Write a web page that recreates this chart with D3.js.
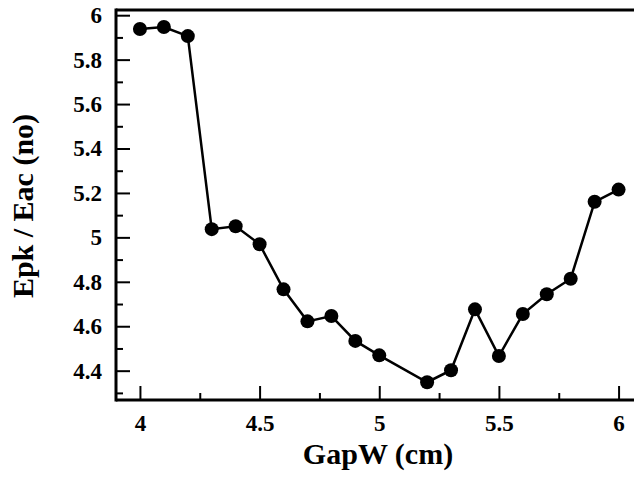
<!DOCTYPE html>
<html>
<head>
<meta charset="utf-8">
<script src="https://cdn.jsdelivr.net/npm/d3@7"></script>
<style>
  html, body { margin: 0; padding: 0; background: #fff; }
  svg { display: block; }
  svg text { font-family: "Liberation Serif", "Times New Roman", serif !important; font-weight: bold !important; }
</style>
</head>
<body style="margin:0">
<svg id="chart" width="634" height="477" font-family="Liberation Serif, Times New Roman, serif"></svg>
<script>
const gapW = [4.0, 4.1, 4.2, 4.3, 4.4, 4.5, 4.6, 4.7, 4.8, 4.9, 5.0, 5.2, 5.3, 5.4, 5.5, 5.6, 5.7, 5.8, 5.9, 6.0];
const epkEac = [5.938, 5.947, 5.906, 5.037, 5.050, 4.969, 4.766, 4.622, 4.646, 4.534, 4.469, 4.348, 4.402, 4.676, 4.466, 4.655, 4.744, 4.814, 5.160, 5.215];
const xTicks = [4, 4.5, 5, 5.5, 6];
const xMinorTicks = [4.25, 4.75, 5.25, 5.75];
const yTicks = [4.4, 4.6, 4.8, 5.0, 5.2, 5.4, 5.6, 5.8, 6.0];
const yMinorTicks = [4.3, 4.5, 4.7, 4.9, 5.1, 5.3, 5.5, 5.7, 5.9];
const xLabel = "GapW (cm)";
const yLabel = "Epk / Eac (no)";

(function () {
const FONT = "Liberation Serif, Times New Roman, serif";
const svg = d3.select("#chart");
const mLeft = 116, mTop = 10, mBottom = 400, mRight = 642.5;

const x = d3.scaleLinear().domain([3.9, 6.1]).range([mLeft, mRight]);
const y = d3.scaleLinear().domain([4.268, 6.0234]).range([mBottom, mTop]);
const fmt = d => String(d);

function styleAxis(g) {
  g.attr("font-family", FONT).attr("font-size", 23).attr("font-weight", "bold");
  g.select(".domain").remove();
  g.selectAll("line").attr("stroke", "#000").attr("stroke-width", 2);
  g.selectAll("text").attr("fill", "#000").attr("font-family", FONT)
    .attr("font-size", 23).attr("font-weight", "bold");
}

// minor ticks
svg.append("g").attr("transform", `translate(0,${mBottom})`)
  .call(d3.axisBottom(x).tickValues(xMinorTicks).tickSize(-7).tickFormat(""))
  .call(styleAxis);
svg.append("g").attr("transform", `translate(${mLeft},0)`)
  .call(d3.axisLeft(y).tickValues(yMinorTicks).tickSize(-7).tickFormat(""))
  .call(styleAxis);

// major ticks
svg.append("g").attr("transform", `translate(0,${mBottom})`)
  .call(d3.axisBottom(x).tickValues(xTicks).tickSize(-14).tickPadding(15).tickFormat(fmt))
  .call(styleAxis);
svg.append("g").attr("transform", `translate(${mLeft},0)`)
  .call(d3.axisLeft(y).tickValues(yTicks).tickSize(-14).tickPadding(14).tickFormat(fmt))
  .call(styleAxis);

// frame lines
svg.append("line").attr("x1", mLeft).attr("x2", 634).attr("y1", mTop).attr("y2", mTop)
  .attr("stroke", "#000").attr("stroke-width", 3);
svg.append("line").attr("x1", mLeft).attr("x2", 634).attr("y1", mBottom).attr("y2", mBottom)
  .attr("stroke", "#000").attr("stroke-width", 3);
svg.append("line").attr("x1", mLeft).attr("x2", mLeft).attr("y1", mTop - 1.5).attr("y2", mBottom + 1.5)
  .attr("stroke", "#000").attr("stroke-width", 3);

const data = gapW.map((g, i) => ({ x: g, y: epkEac[i] }));

svg.append("path").datum(data)
  .attr("fill", "none").attr("stroke", "#000").attr("stroke-width", 2.5)
  .attr("d", d3.line().x(d => x(d.x)).y(d => y(d.y)));

svg.append("g").selectAll("circle").data(data).join("circle")
  .attr("cx", d => x(d.x)).attr("cy", d => y(d.y)).attr("r", 7).attr("fill", "#000");

// axis titles
svg.append("text").attr("x", 378).attr("y", 464).attr("text-anchor", "middle")
  .attr("font-family", FONT).attr("font-weight", "bold").attr("font-size", 30).attr("fill", "#000").text(xLabel);
svg.append("text").attr("transform", "translate(33,206) rotate(-90)").attr("text-anchor", "middle")
  .attr("font-family", FONT).attr("font-weight", "bold").attr("font-size", 30).attr("fill", "#000").text(yLabel);
})();
</script>
</body>
</html>
